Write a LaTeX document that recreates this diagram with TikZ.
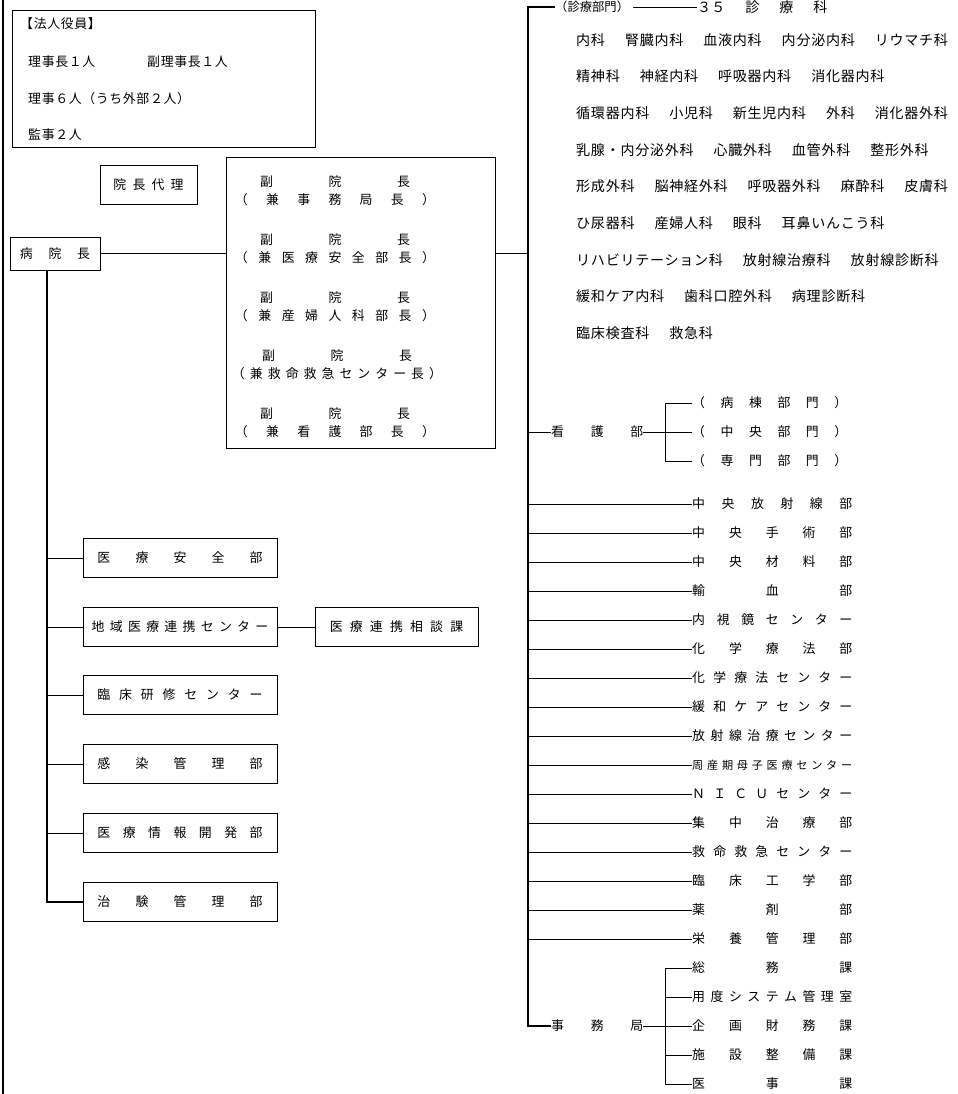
\documentclass[tikz,border=0pt]{standalone}
\usepackage{fontspec}
\setmainfont{Noto Sans CJK JP}
\newfontfamily\spacedfont[LetterSpace=5]{Noto Sans CJK JP}
\usepackage{tikz}
\usetikzlibrary{positioning}

% spread the characters of #2 evenly over the width #1
\newcommand\spreadtext[2]{\makebox[#1][s]{\spreadfirst#2\relax}}
\def\spreadfirst#1{#1\spreadrest}
\def\spreadrest#1{\ifx#1\relax\else\hfill#1\expandafter\spreadrest\fi}
\newcommand\kagap{\hspace{0.6cm}}

\begin{document}
\begin{tikzpicture}[
    x=0.03cm, y=-0.03cm,
    font=\fontsize{11}{13}\selectfont,
    unit/.style={
        draw=black, line width=0.7pt,
        minimum width=5.82cm, minimum height=1.17cm, inner sep=0pt,
    },
    tag/.style={anchor=west, inner sep=0pt},
    karow/.style={anchor=west, inner sep=0pt, font=\spacedfont\fontsize{12}{14}\selectfont},
    small/.style={font=\spacedfont\fontsize{11}{13}\selectfont},
    trunk/.style={draw=black, line width=1.2pt},
    branch/.style={draw=black, line width=0.7pt},
]
\useasboundingbox (0,0) rectangle (958,1094);

\draw[trunk] (3,0) -- (3,1094);

% board of the corporation
\node[draw, line width=0.7pt, minimum width=9.09cm, minimum height=4.11cm, inner sep=0pt] (board) at (163.5,78.5) {};
\node[tag, small] (boardhead) at (20,24) {【法人役員】};
\node[tag, small] (chair) at (28,62) {理事長１人};
\node[tag, small] (vchair) at (147,62) {副理事長１人};
\node[tag, small] (members) at (28,99) {理事６人（うち外部２人）};
\node[tag, small] (auditor) at (28,135) {監事２人};

% director and deputies
\node[draw, line width=0.7pt, minimum width=2.91cm, minimum height=1.17cm, inner sep=0pt] (deputy) at (148.5,184.5) {\spreadtext{2.1cm}{院長代理}};
\node[draw, line width=0.7pt, minimum width=2.7cm, minimum height=0.99cm, inner sep=0pt] (hosp) at (55,253.5) {\spreadtext{2.1cm}{病院長}};

\node[draw, line width=0.7pt, minimum width=8.07cm, minimum height=8.73cm, inner sep=0pt] (vice) at (360.5,302.5) {};
\node[align=center, inner sep=0pt, font=\fontsize{11}{15}\selectfont] (vp1) at (335,191) {\spreadtext{4.5cm}{副院長}\\\spreadtext{6cm}{（兼事務局長）}};
\node[align=center, inner sep=0pt, font=\fontsize{11}{15}\selectfont] (vp2) at (335,249) {\spreadtext{4.5cm}{副院長}\\\spreadtext{6cm}{（兼医療安全部長）}};
\node[align=center, inner sep=0pt, font=\fontsize{11}{15}\selectfont] (vp3) at (335,307) {\spreadtext{4.5cm}{副院長}\\\spreadtext{6cm}{（兼産婦人科部長）}};
\node[align=center, inner sep=0pt, font=\fontsize{11}{15}\selectfont] (vp4) at (337,365) {\spreadtext{4.5cm}{副院長}\\\spreadtext{6.3cm}{（兼救命救急センター長）}};
\node[align=center, inner sep=0pt, font=\fontsize{11}{15}\selectfont] (vp5) at (335,423) {\spreadtext{4.5cm}{副院長}\\\spreadtext{6cm}{（兼看護部長）}};

% units under the director
\node[unit] (anzen) at (180,558) {\spreadtext{4.95cm}{医療安全部}};
\node[unit] (chiiki) at (180,627) {\spreadtext{5.3cm}{地域医療連携センター}};
\node[unit, minimum width=4.89cm] (sodan) at (396.5,627) {\spreadtext{4cm}{医療連携相談課}};
\node[unit] (kensyu) at (180,695) {\spreadtext{4.95cm}{臨床研修センター}};
\node[unit] (kansen) at (180,764) {\spreadtext{4.95cm}{感染管理部}};
\node[unit] (joho) at (180,833) {\spreadtext{4.95cm}{医療情報開発部}};
\node[unit] (chiken) at (180,902) {\spreadtext{4.95cm}{治験管理部}};

\coordinate (ltrunk) at (47,270);
\draw[trunk] (ltrunk) |- (chiken.west);
\draw[branch] (ltrunk |- anzen.west) -- (anzen.west);
\draw[branch] (ltrunk |- chiiki.west) -- (chiiki.west);
\draw[branch] (ltrunk |- kensyu.west) -- (kensyu.west);
\draw[branch] (ltrunk |- kansen.west) -- (kansen.west);
\draw[branch] (ltrunk |- joho.west) -- (joho.west);
\draw[branch] (chiiki.east) -- (sodan.west);

% clinical departments
\node[tag, font=\fontsize{10.5}{12}\selectfont] (sinbumon) at (555,7) {（診療部門）};
\node[tag, font=\fontsize{12}{14}\selectfont] (ka35) at (697,7) {３５\kagap 診\kagap 療\kagap 科};
\draw[branch] (sinbumon.east) ++(4,0) -- (ka35.west);

\node[karow] (ka1) at (576,40) {内科\kagap 腎臓内科\kagap 血液内科\kagap 内分泌内科\kagap リウマチ科};
\node[karow] (ka2) at (576,76.5) {精神科\kagap 神経内科\kagap 呼吸器内科\kagap 消化器内科};
\node[karow] (ka3) at (576,113) {循環器内科\kagap 小児科\kagap 新生児内科\kagap 外科\kagap 消化器外科};
\node[karow] (ka4) at (576,150) {乳腺・内分泌外科\kagap 心臓外科\kagap 血管外科\kagap 整形外科};
\node[karow] (ka5) at (576,186) {形成外科\kagap 脳神経外科\kagap 呼吸器外科\kagap 麻酔科\kagap 皮膚科};
\node[karow] (ka6) at (576,223) {ひ尿器科\kagap 産婦人科\kagap 眼科\kagap 耳鼻いんこう科};
\node[karow] (ka7) at (576,260) {リハビリテーション科\kagap 放射線治療科\kagap 放射線診断科};
\node[karow] (ka8) at (576,296) {緩和ケア内科\kagap 歯科口腔外科\kagap 病理診断科};
\node[karow] (ka9) at (576,333) {臨床検査科\kagap 救急科};

% nursing
\node[tag] (kango) at (551,432) {\spreadtext{2.76cm}{看護部}};
\node[tag] (kbyoto) at (692,403) {\spreadtext{4.65cm}{（病棟部門）}};
\node[tag] (kchuo) at (692,432) {\spreadtext{4.65cm}{（中央部門）}};
\node[tag] (ksenmon) at (692,461) {\spreadtext{4.65cm}{（専門部門）}};

% central departments
\node[tag] (rad) at (692,504) {\spreadtext{4.8cm}{中央放射線部}};
\node[tag] (ope) at (692,533) {\spreadtext{4.8cm}{中央手術部}};
\node[tag] (mat) at (692,562) {\spreadtext{4.8cm}{中央材料部}};
\node[tag] (blood) at (692,591) {\spreadtext{4.8cm}{輸血部}};
\node[tag] (endo) at (692,620) {\spreadtext{4.8cm}{内視鏡センター}};
\node[tag] (chemo) at (692,649) {\spreadtext{4.8cm}{化学療法部}};
\node[tag] (chemoc) at (692,678) {\spreadtext{4.8cm}{化学療法センター}};
\node[tag] (pall) at (692,707) {\spreadtext{4.8cm}{緩和ケアセンター}};
\node[tag] (radt) at (692,736) {\spreadtext{4.8cm}{放射線治療センター}};
\node[tag, font=\fontsize{9.5}{11}\selectfont] (peri) at (692,765) {\spreadtext{4.8cm}{周産期母子医療センター}};
\node[tag] (nicu) at (692,794) {\spreadtext{4.8cm}{ＮＩＣＵセンター}};
\node[tag] (icu) at (692,823) {\spreadtext{4.8cm}{集中治療部}};
\node[tag] (er) at (692,852) {\spreadtext{4.8cm}{救命救急センター}};
\node[tag] (ce) at (692,881) {\spreadtext{4.8cm}{臨床工学部}};
\node[tag] (pharm) at (692,910) {\spreadtext{4.8cm}{薬剤部}};
\node[tag] (nutr) at (692,939) {\spreadtext{4.8cm}{栄養管理部}};

% administration
\node[tag] (jimu) at (551,1026) {\spreadtext{2.76cm}{事務局}};
\node[tag] (somu) at (692,968) {\spreadtext{4.8cm}{総務課}};
\node[tag] (yodo) at (692,997) {\spreadtext{4.8cm}{用度システム管理室}};
\node[tag] (kikaku) at (692,1026) {\spreadtext{4.8cm}{企画財務課}};
\node[tag] (shisetsu) at (692,1055) {\spreadtext{4.8cm}{施設整備課}};
\node[tag] (iji) at (692,1084) {\spreadtext{4.8cm}{医事課}};

% connectors on the right
\coordinate (rtrunk) at (528,7);
\coordinate (kbr) at (665,432);
\coordinate (jbr) at (665,1026);

\draw[branch] (hosp.east) -- (vice.west |- hosp.east);
\draw[branch] (vice.east |- hosp.east) -- (rtrunk |- hosp.east);
\draw[trunk] (sinbumon.west) -- (rtrunk) -- (rtrunk |- jimu.west) -- (jimu.west);

\draw[branch] (rtrunk |- kango.west) -- (kango.west);
\draw[branch] (kango.east) -- (kchuo.west);
\draw[branch] (kbyoto.west) -- (kbyoto.west -| kbr) -- (ksenmon.west -| kbr) -- (ksenmon.west);

\draw[branch] (rtrunk |- rad.west) -- (rad.west);
\draw[branch] (rtrunk |- ope.west) -- (ope.west);
\draw[branch] (rtrunk |- mat.west) -- (mat.west);
\draw[branch] (rtrunk |- blood.west) -- (blood.west);
\draw[branch] (rtrunk |- endo.west) -- (endo.west);
\draw[branch] (rtrunk |- chemo.west) -- (chemo.west);
\draw[branch] (rtrunk |- chemoc.west) -- (chemoc.west);
\draw[branch] (rtrunk |- pall.west) -- (pall.west);
\draw[branch] (rtrunk |- radt.west) -- (radt.west);
\draw[branch] (rtrunk |- peri.west) -- (peri.west);
\draw[branch] (rtrunk |- nicu.west) -- (nicu.west);
\draw[branch] (rtrunk |- icu.west) -- (icu.west);
\draw[branch] (rtrunk |- er.west) -- (er.west);
\draw[branch] (rtrunk |- ce.west) -- (ce.west);
\draw[branch] (rtrunk |- pharm.west) -- (pharm.west);
\draw[branch] (rtrunk |- nutr.west) -- (nutr.west);

\draw[branch] (jimu.east) -- (kikaku.west);
\draw[branch] (somu.west) -- (somu.west -| jbr) -- (iji.west -| jbr) -- (iji.west);
\draw[branch] (yodo.west -| jbr) -- (yodo.west);
\draw[branch] (shisetsu.west -| jbr) -- (shisetsu.west);

\end{tikzpicture}
\end{document}
